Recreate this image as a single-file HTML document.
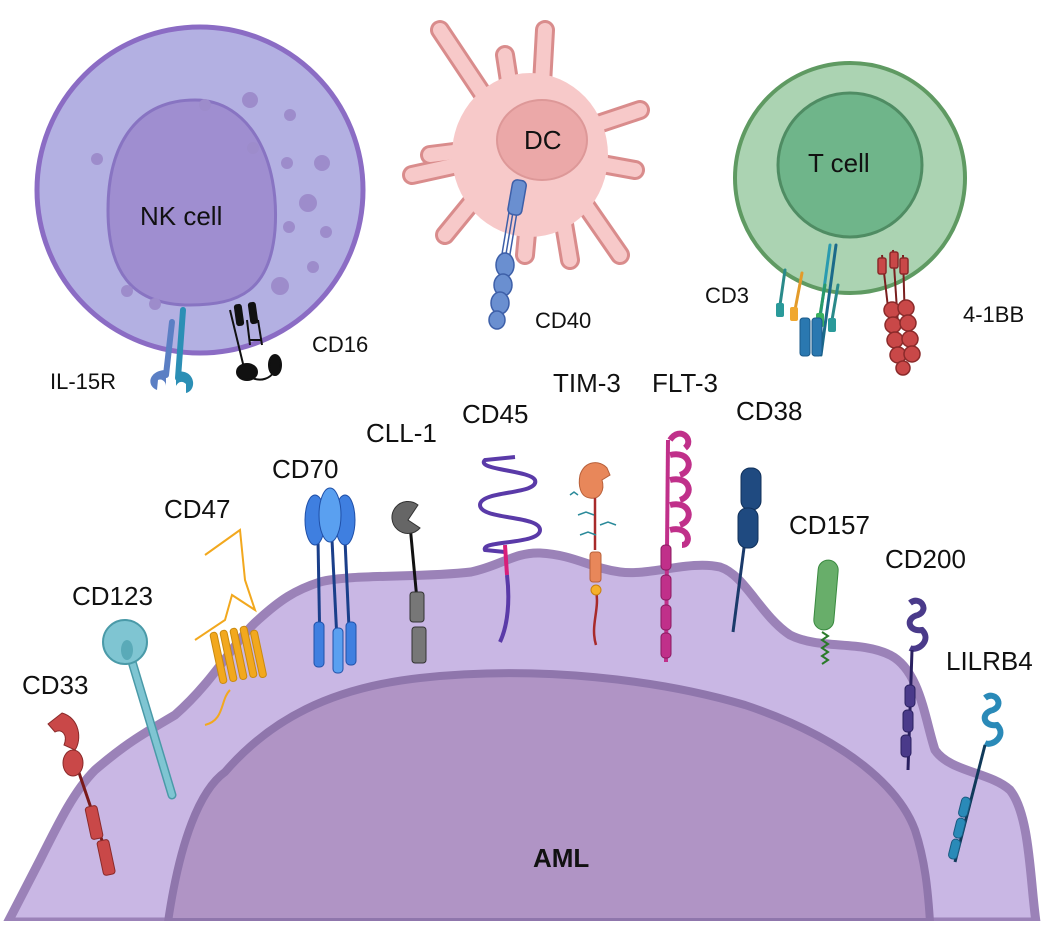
<!DOCTYPE html>
<html><head><meta charset="utf-8"><style>
html,body{margin:0;padding:0;background:#fff;}
svg{display:block;}
text{font-family:"Liberation Sans",sans-serif;fill:#111;}
</style></head><body>
<svg width="1050" height="927" viewBox="0 0 1050 927" xmlns="http://www.w3.org/2000/svg">
<!-- AML cell -->
<path d="M8,922 L40,860 C60,820 75,790 95,770 C130,740 150,730 175,715 C215,680 235,640 258,620 C280,600 295,590 320,582 C350,574 420,578 471,572 C500,566 515,552 540,553 C575,555 590,568 620,572 C650,576 690,560 720,567 C745,575 760,615 790,635 C820,650 860,640 890,655 C920,670 925,720 935,750 C950,772 990,772 1010,790 C1030,815 1030,880 1036,922 Z" fill="#c9b7e4" stroke="#9b82b8" stroke-width="9"/>
<rect x="0" y="921" width="1050" height="6" fill="#fff"/>
<path d="M168,922 C180,840 200,790 225,772 C270,720 330,688 420,678 C540,665 660,680 745,705 C850,740 900,790 915,830 C925,860 928,890 930,922 Z" fill="#b094c5" stroke="#8f76ac" stroke-width="8"/>
<rect x="0" y="921" width="1050" height="6" fill="#fff"/>
<text x="533" y="867" font-size="26" font-weight="bold">AML</text>

<!-- NK cell -->
<circle cx="200" cy="190" r="163" fill="#b3b0e2" stroke="#8b6cc4" stroke-width="5"/>
<path d="M195,100 C250,100 280,160 275,230 C270,290 240,305 190,305 C130,305 108,270 108,210 C108,140 140,100 195,100 Z" fill="#9f8ed0" stroke="#8874c2" stroke-width="3"/>
<g fill="#9d8ccb">
<circle cx="205" cy="105" r="6"/><circle cx="250" cy="100" r="8"/><circle cx="290" cy="115" r="6"/><circle cx="253" cy="148" r="6"/>
<circle cx="287" cy="163" r="6"/><circle cx="322" cy="163" r="8"/><circle cx="97" cy="159" r="6"/><circle cx="308" cy="203" r="9"/>
<circle cx="289" cy="227" r="6"/><circle cx="326" cy="232" r="6"/><circle cx="313" cy="267" r="6"/><circle cx="280" cy="286" r="9"/>
<circle cx="127" cy="291" r="6"/><circle cx="155" cy="304" r="6"/>
</g>
<text x="140" y="225" font-size="26">NK cell</text>
<!-- IL-15R -->
<path d="M172,322 L166,375" stroke="#5b7fc4" stroke-width="6" stroke-linecap="round"/>
<path d="M183,310 L178,378" stroke="#2c8fb5" stroke-width="6" stroke-linecap="round"/>
<path d="M166,370 C150,370 145,385 157,390 L158,380 C162,378 166,382 166,386 Z" fill="#5b7fc4"/>
<path d="M176,372 C195,368 198,390 186,393 L186,384 C182,380 178,382 176,386 Z" fill="#2c8fb5"/>
<!-- CD16 -->
<g stroke="#111" stroke-width="2" fill="#111">
<line x1="230" y1="310" x2="245" y2="372"/><line x1="247" y1="320" x2="250" y2="345"/><line x1="258" y1="320" x2="262" y2="345"/>
<rect x="236" y="305" width="6" height="20" rx="2" transform="rotate(-8 239 315)"/><rect x="250" y="303" width="6" height="20" rx="2" transform="rotate(-8 253 313)"/>
<line x1="250" y1="340" x2="262" y2="340"/>
<ellipse cx="247" cy="372" rx="10" ry="8"/><ellipse cx="275" cy="365" rx="6" ry="10"/>
<path d="M252,378 C262,382 270,378 274,372" fill="none"/>
</g>
<text x="50" y="389" font-size="22">IL-15R</text>
<text x="312" y="352" font-size="22">CD16</text>

<!-- DC -->
<g stroke="#d98c8c" stroke-linecap="round" fill="none">
<g stroke-width="20">
<path d="M545,30 L540,120"/><path d="M440,30 L500,120"/><path d="M505,55 L515,120"/><path d="M640,110 L580,130"/>
<path d="M635,170 L580,160"/><path d="M412,175 L480,160"/><path d="M445,235 L490,180"/><path d="M430,155 L470,150"/>
<path d="M525,255 L530,200"/><path d="M570,260 L560,200"/><path d="M620,255 L575,190"/>
</g>
<g stroke="#f7c9c9" stroke-width="14">
<path d="M545,30 L540,120"/><path d="M440,30 L500,120"/><path d="M505,55 L515,120"/><path d="M640,110 L580,130"/>
<path d="M635,170 L580,160"/><path d="M412,175 L480,160"/><path d="M445,235 L490,180"/><path d="M430,155 L470,150"/>
<path d="M525,255 L530,200"/><path d="M570,260 L560,200"/><path d="M620,255 L575,190"/>
</g>
</g>
<ellipse cx="530" cy="155" rx="78" ry="82" fill="#f7c9c9"/>
<ellipse cx="542" cy="140" rx="45" ry="40" fill="#eba8a8" stroke="#dd9898" stroke-width="2"/>
<text x="524" y="149" font-size="26">DC</text>
<!-- CD40 -->
<g stroke="#3d5fa8" stroke-width="1.5">
<line x1="515" y1="200" x2="505" y2="260"/><line x1="519" y1="200" x2="509" y2="260"/><line x1="511" y1="200" x2="501" y2="260"/>
<g fill="#6a8fd0">
<rect x="510" y="180" width="14" height="35" rx="5" transform="rotate(10 517 198)"/>
<ellipse cx="505" cy="265" rx="9" ry="12"/><ellipse cx="503" cy="285" rx="9" ry="11"/><ellipse cx="500" cy="303" rx="9" ry="11"/><ellipse cx="497" cy="320" rx="8" ry="9"/>
</g></g>
<text x="535" y="328" font-size="22">CD40</text>

<!-- T cell -->
<circle cx="850" cy="178" r="115" fill="#abd3b2" stroke="#5f9a62" stroke-width="4"/>
<ellipse cx="850" cy="165" rx="72" ry="72" fill="#6fb58a" stroke="#4f8c63" stroke-width="3"/>
<text x="808" y="172" font-size="26">T cell</text>
<!-- CD3 -->
<g stroke-width="3" stroke-linecap="round">
<line x1="830" y1="245" x2="815" y2="355" stroke="#2a9bb0"/><line x1="836" y1="245" x2="821" y2="355" stroke="#1b6a8a"/>
<line x1="785" y1="270" x2="780" y2="305" stroke="#2a8a8a"/><line x1="802" y1="273" x2="795" y2="310" stroke="#e39b2a"/>
<line x1="825" y1="285" x2="820" y2="315" stroke="#2a9a6a"/><line x1="838" y1="285" x2="832" y2="320" stroke="#2a8a8a"/>
</g>
<rect x="776" y="303" width="8" height="14" rx="2" fill="#2a9a9a"/><rect x="790" y="307" width="8" height="14" rx="2" fill="#f0a830"/>
<rect x="816" y="313" width="8" height="14" rx="2" fill="#3ab060"/><rect x="828" y="318" width="8" height="14" rx="2" fill="#2a9a9a"/>
<rect x="800" y="318" width="10" height="38" rx="3" fill="#2a78b0" stroke="#1a5a8a"/><rect x="812" y="318" width="10" height="38" rx="3" fill="#2a78b0" stroke="#1a5a8a"/>
<text x="705" y="303" font-size="22">CD3</text>
<!-- 4-1BB -->
<g stroke="#7a1f1f" stroke-width="2">
<line x1="882" y1="255" x2="890" y2="325"/><line x1="893" y1="250" x2="898" y2="325"/><line x1="903" y1="255" x2="905" y2="325"/>
<g fill="#c94848" stroke="#8a2a2a" stroke-width="1.5">
<rect x="878" y="258" width="8" height="16" rx="2"/><rect x="890" y="252" width="8" height="16" rx="2"/><rect x="900" y="258" width="8" height="16" rx="2"/>
<circle cx="892" cy="310" r="8"/><circle cx="906" cy="308" r="8"/><circle cx="893" cy="325" r="8"/><circle cx="908" cy="323" r="8"/>
<circle cx="895" cy="340" r="8"/><circle cx="910" cy="339" r="8"/><circle cx="898" cy="355" r="8"/><circle cx="912" cy="354" r="8"/><circle cx="903" cy="368" r="7"/>
</g></g>
<text x="963" y="322" font-size="22">4-1BB</text>

<!-- Labels AML -->
<g font-size="26">
<text x="22" y="694">CD33</text><text x="72" y="605">CD123</text><text x="164" y="518">CD47</text>
<text x="272" y="478">CD70</text><text x="366" y="442">CLL-1</text><text x="462" y="423">CD45</text>
<text x="553" y="392">TIM-3</text><text x="652" y="392">FLT-3</text><text x="736" y="420">CD38</text>
<text x="789" y="534">CD157</text><text x="885" y="568">CD200</text><text x="946" y="670">LILRB4</text>
</g>
<!-- CD33 -->
<line x1="73" y1="755" x2="112" y2="870" stroke="#7a1a1a" stroke-width="3"/>
<path d="M48,724 L62,713 C80,718 82,740 75,750 L64,745 C68,735 62,728 55,732 Z" fill="#c94848" stroke="#8a2a2a"/>
<ellipse cx="73" cy="763" rx="10" ry="13" fill="#c94848" stroke="#8a2a2a"/>
<rect x="88" y="806" width="12" height="33" rx="3" fill="#c94848" stroke="#8a2a2a" transform="rotate(-12 94 822)"/>
<rect x="100" y="840" width="12" height="35" rx="3" fill="#c94848" stroke="#8a2a2a" transform="rotate(-12 106 857)"/>
<!-- CD123 -->
<line x1="130" y1="655" x2="172" y2="795" stroke="#4a9aa8" stroke-width="9" stroke-linecap="round"/>
<line x1="130" y1="655" x2="172" y2="795" stroke="#7fc5d2" stroke-width="6" stroke-linecap="round"/>
<circle cx="125" cy="642" r="22" fill="#7fc5d2" stroke="#4a9aa8" stroke-width="2"/>
<ellipse cx="127" cy="650" rx="6" ry="10" fill="#5aaab8"/>
<!-- CD47 -->
<path d="M205,555 L212,550 L240,530 L245,580 L255,610 L232,595 L225,620 L195,640 M230,690 C220,700 225,720 205,725" fill="none" stroke="#f2a81e" stroke-width="2"/>
<g fill="#f2a81e" stroke="#c98a10">
<rect x="215" y="632" width="7" height="52" rx="3" transform="rotate(-12 218 658)"/>
<rect x="225" y="630" width="7" height="52" rx="3" transform="rotate(-12 228 656)"/>
<rect x="235" y="628" width="7" height="52" rx="3" transform="rotate(-12 238 654)"/>
<rect x="245" y="626" width="7" height="52" rx="3" transform="rotate(-12 248 652)"/>
<rect x="255" y="630" width="7" height="48" rx="3" transform="rotate(-12 258 654)"/>
</g>
<!-- CD70 -->
<g stroke="#1a3f8a" stroke-width="3">
<line x1="318" y1="540" x2="320" y2="650"/><line x1="332" y1="540" x2="338" y2="660"/><line x1="345" y1="540" x2="350" y2="650"/>
</g>
<g fill="#3f7fe0" stroke="#2050a8">
<ellipse cx="315" cy="520" rx="10" ry="25"/><ellipse cx="345" cy="520" rx="10" ry="25"/><ellipse cx="330" cy="515" rx="11" ry="27" fill="#5aa0f0"/>
<rect x="314" y="622" width="10" height="45" rx="4"/><rect x="333" y="628" width="10" height="45" rx="4" fill="#5aa0f0"/><rect x="346" y="622" width="10" height="43" rx="4"/>
</g>
<!-- CLL-1 -->
<line x1="410" y1="525" x2="417" y2="600" stroke="#111" stroke-width="3"/>
<path d="M418,505 A16,16 0 1,0 420,528 L408,520 Z" fill="#666" stroke="#333"/>
<rect x="410" y="592" width="14" height="30" rx="3" fill="#777" stroke="#333"/>
<rect x="412" y="627" width="14" height="36" rx="3" fill="#777" stroke="#333"/>
<!-- CD45 -->
<path d="M515,457 L485,460 C475,470 530,470 535,480 C540,495 480,490 480,505 C480,520 540,515 540,530 C540,545 480,540 485,550 L505,552" fill="none" stroke="#5a3aa8" stroke-width="4"/>
<line x1="505" y1="545" x2="507" y2="575" stroke="#d8207a" stroke-width="4"/>
<path d="M507,575 C510,600 508,625 500,642" fill="none" stroke="#5a3aa8" stroke-width="4"/>
<!-- TIM-3 -->
<path d="M580,475 C585,460 600,460 607,468 L610,475 L602,480 C605,490 600,500 590,498 C580,497 578,485 580,475 Z" fill="#e8875a" stroke="#b8603a"/>
<path d="M595,498 L595,550 M596,590 C600,610 590,625 596,645" fill="none" stroke="#a82a2a" stroke-width="2.5"/>
<rect x="590" y="552" width="11" height="30" rx="3" fill="#e8875a" stroke="#b8603a"/>
<circle cx="596" cy="590" r="5" fill="#f5b02a" stroke="#c88010"/>
<g stroke="#2a8a9a" stroke-width="1.5" fill="none"><path d="M578,515 l8,-3 l8,3"/><path d="M580,535 l8,-3 l8,3"/><path d="M600,525 l8,-3 l8,3"/><path d="M570,495 l4,-3 l4,3"/></g>
<!-- FLT-3 -->
<path d="M670,440 C680,425 695,440 685,448 M670,455 C690,450 695,470 680,475 M670,480 C690,475 695,495 680,500 M670,505 C690,500 695,520 680,525 M670,530 C690,525 692,545 682,545" fill="none" stroke="#c0308a" stroke-width="6"/>
<line x1="668" y1="440" x2="666" y2="662" stroke="#c0308a" stroke-width="4"/>
<g fill="#c0308a" stroke="#8a1a60"><rect x="661" y="545" width="10" height="25" rx="4"/><rect x="661" y="575" width="10" height="25" rx="4"/><rect x="661" y="605" width="10" height="25" rx="4"/><rect x="661" y="633" width="10" height="25" rx="4"/></g>
<!-- CD38 -->
<line x1="745" y1="540" x2="733" y2="632" stroke="#1a3a6a" stroke-width="3"/>
<rect x="741" y="468" width="20" height="42" rx="9" fill="#1f4a80" stroke="#10305a"/>
<rect x="738" y="508" width="20" height="40" rx="9" fill="#1f4a80" stroke="#10305a"/>
<!-- CD157 -->
<rect x="816" y="560" width="20" height="70" rx="10" fill="#68ae6a" stroke="#3a8a40" transform="rotate(5 826 595)"/>
<path d="M822,632 l6,4 l-6,4 l6,4 l-6,4 l6,4 l-6,4 l6,4 l-6,4" fill="none" stroke="#2a7a2a" stroke-width="2"/>
<!-- CD200 -->
<path d="M910,603 C920,595 930,610 918,615 C905,618 908,632 922,630 C932,640 918,652 910,648" fill="none" stroke="#4a3a8a" stroke-width="6"/>
<line x1="912" y1="650" x2="908" y2="770" stroke="#2a2060" stroke-width="3"/>
<g fill="#4a3a8a" stroke="#2a2060"><rect x="905" y="685" width="10" height="22" rx="4"/><rect x="903" y="710" width="10" height="22" rx="4"/><rect x="901" y="735" width="10" height="22" rx="4"/></g>
<!-- LILRB4 -->
<path d="M985,698 C995,690 1005,705 993,710 C980,713 983,727 997,725 C1007,735 993,747 985,743" fill="none" stroke="#2a8ab8" stroke-width="6"/>
<line x1="985" y1="745" x2="955" y2="862" stroke="#103a5a" stroke-width="3"/>
<g fill="#2a8ab8" stroke="#1a5a80"><rect x="960" y="797" width="9" height="20" rx="4" transform="rotate(14 964 807)"/><rect x="955" y="818" width="9" height="20" rx="4" transform="rotate(14 959 828)"/><rect x="950" y="839" width="9" height="20" rx="4" transform="rotate(14 954 849)"/></g>
</svg>
</body></html>
